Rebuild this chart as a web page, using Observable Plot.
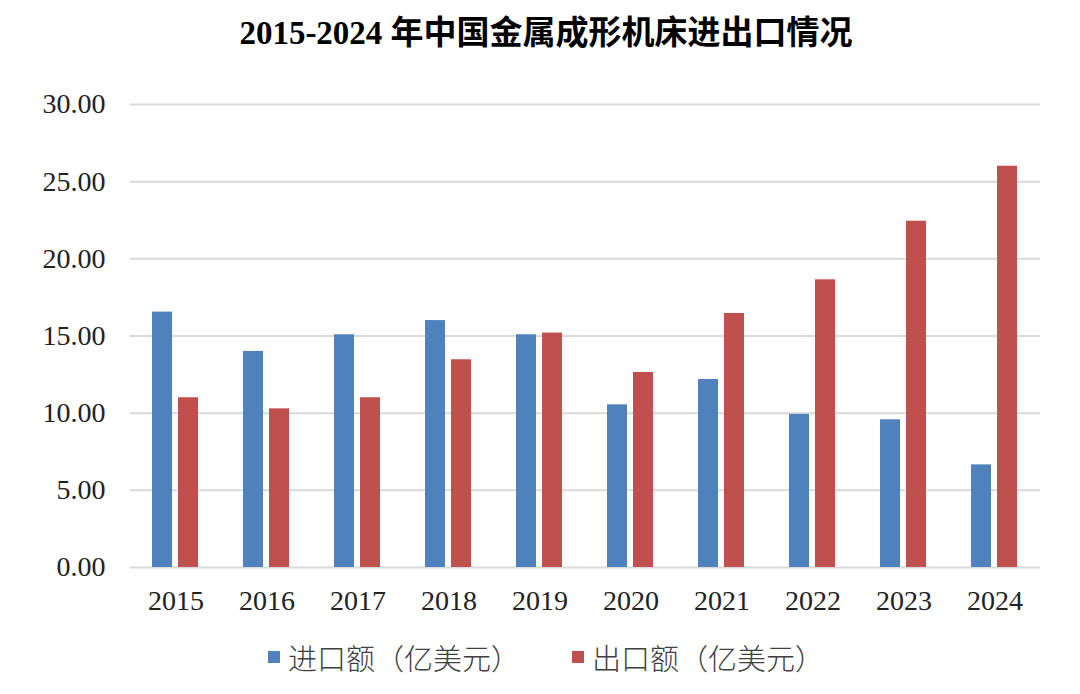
<!DOCTYPE html>
<html>
<head>
<meta charset="utf-8">
<script src="https://cdn.jsdelivr.net/npm/d3@7"></script>
<script src="https://cdn.jsdelivr.net/npm/@observablehq/plot@0.6"></script>
<style>
  html, body { margin: 0; padding: 0; background: #fff; width: 1080px; height: 694px; overflow: hidden; }
  #title { height: 66px; line-height: 66px; text-align: center; font-family: "Liberation Serif", "Noto Sans CJK SC", serif; font-weight: bold; font-size: 33px; color: #000; padding-left: 12px; }
  #legend { height: 70px; display: flex; align-items: center; justify-content: center; gap: 52px; font-family: "Liberation Serif", "Noto Sans CJK SC", serif; font-weight: 300; font-size: 29px; color: #404040; padding-left: 12px; }
  .item { display: flex; align-items: center; gap: 8px; }
  .sw { width: 12px; height: 12px; display: inline-block; }
</style>
</head>
<body>
<div id="title">2015-2024 年中国金属成形机床进出口情况</div>
<div id="chart"></div>
<div id="legend"></div>
<script>
const years = ["2015","2016","2017","2018","2019","2020","2021","2022","2023","2024"];
const importValues = [16.55, 14.0, 15.08, 16.0, 15.08, 10.54, 12.18, 9.92, 9.57, 6.65];
const exportValues = [11.0, 10.28, 11.0, 13.46, 15.19, 12.64, 16.46, 18.64, 22.44, 26.0];
const seriesNames = ["进口额（亿美元）", "出口额（亿美元）"];
const seriesColors = ["#4f81bd", "#c0504d"];
const yTicks = [0, 5, 10, 15, 20, 25, 30];

const table = [];
years.forEach((y, i) => {
  table.push({year: y, series: seriesNames[0], value: importValues[i]});
  table.push({year: y, series: seriesNames[1], value: exportValues[i]});
});

const chart = Plot.plot({
  width: 1080,
  height: 556,
  marginTop: 38,
  marginBottom: 55,
  marginLeft: 130,
  marginRight: 40,
  style: {fontFamily: "Liberation Serif, serif", fontSize: "28px", color: "#222", background: "#fff"},
  fx: {domain: years, padding: 0, label: null, tickSize: 0, tickPadding: 23},
  x: {domain: seriesNames, paddingInner: 0.23, paddingOuter: 0.865, axis: null},
  y: {domain: [0, 30], ticks: yTicks, tickFormat: d3.format(".2f"), label: null, tickSize: 0, tickPadding: 25},
  color: {domain: seriesNames, range: seriesColors},
  marks: [
    Plot.gridY(yTicks, {stroke: "#d9d9d9", strokeOpacity: 1, strokeWidth: 2}),
    Plot.barY(table, {fx: "year", x: "series", y: "value", fill: "series"})
  ]
});
document.getElementById("chart").appendChild(chart);

const legend = document.getElementById("legend");
seriesNames.forEach((name, i) => {
  const item = document.createElement("div");
  item.className = "item";
  const sw = document.createElement("span");
  sw.className = "sw";
  sw.style.background = seriesColors[i];
  const t = document.createElement("span");
  t.textContent = name;
  item.appendChild(sw);
  item.appendChild(t);
  legend.appendChild(item);
});
</script>
</body>
</html>
